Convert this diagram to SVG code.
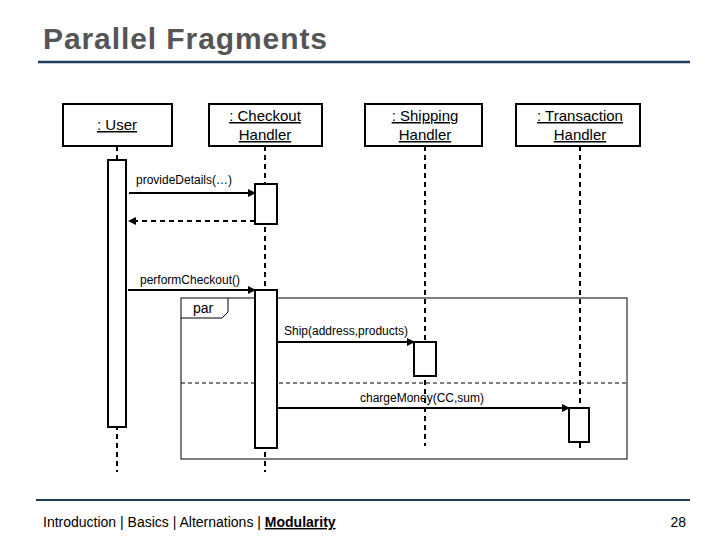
<svg xmlns="http://www.w3.org/2000/svg" width="720" height="540" viewBox="0 0 720 540">
<style>
text{font-family:"Liberation Sans",Arial,sans-serif;fill:#000}
.box{fill:#fff;stroke:#000;stroke-width:2}
.life{stroke:#000;stroke-width:2;stroke-dasharray:5,4;fill:none}
.msg{stroke:#000;stroke-width:2;fill:none}
.lbl{font-size:12px}
.hd{font-size:15px;text-decoration:underline;text-anchor:middle}
</style>
<defs>
<marker id="ah" markerWidth="8" markerHeight="8" refX="7" refY="4" orient="auto" markerUnits="userSpaceOnUse"><path d="M0,0 L8,4 L0,8z" fill="#000"/></marker>
</defs>
<rect width="720" height="540" fill="#fff"/>
<text x="43" y="49" font-size="30" font-weight="bold" style="fill:#555" textLength="284">Parallel Fragments</text>
<line x1="38" y1="62" x2="690" y2="62" stroke="#1f3b57" stroke-width="2.5"/>
<g id="lifelines">
<line class="life" x1="117" y1="146" x2="117" y2="472"/>
<line class="life" x1="265" y1="146" x2="265" y2="472"/>
<line class="life" x1="425" y1="146" x2="425" y2="446"/>
<line class="life" x1="580" y1="146" x2="580" y2="448"/>
</g>
<g id="user"><rect class="box" x="63" y="104" width="109" height="42"/><text class="hd" x="117" y="130">: User</text></g>
<g id="checkout"><rect class="box" x="209" y="104" width="113" height="42"/><text class="hd" x="265" y="121">: Checkout </text><text class="hd" x="265" y="140">Handler</text></g>
<g id="shipping"><rect class="box" x="365" y="104" width="117" height="42"/><text class="hd" x="425" y="121">: Shipping </text><text class="hd" x="425" y="140">Handler</text></g>
<g id="transaction"><rect class="box" x="516" y="104" width="124" height="42"/><text class="hd" x="580" y="121">: Transaction </text><text class="hd" x="580" y="140">Handler</text></g>
<g id="par-frame">
<rect x="181" y="298" width="446" height="161" fill="none" stroke="#000" stroke-width="1"/>
<path d="M181,318 L222,318 L228,312 L228,298" fill="none" stroke="#000" stroke-width="1"/>
<text x="193" y="313" font-size="14">par</text>
<line x1="181" y1="383" x2="627" y2="383" stroke="#000" stroke-width="1" stroke-dasharray="4,3"/>
</g>
<g id="activations">
<rect class="box" x="108" y="160" width="18" height="267"/>
<rect class="box" x="255" y="184" width="22" height="40"/>
<rect class="box" x="255" y="290" width="22" height="158"/>
<rect class="box" x="414" y="342" width="22" height="34"/>
<rect class="box" x="569" y="408" width="20" height="34"/>
</g>
<g id="connectors">
<line class="msg" x1="129" y1="193" x2="255" y2="193" marker-end="url(#ah)"/>
<line class="msg" x1="255" y1="221" x2="129" y2="221" stroke-dasharray="5,4" marker-end="url(#ah)"/>
<line class="msg" x1="128" y1="290" x2="255" y2="290" marker-end="url(#ah)"/>
<line class="msg" x1="277" y1="342" x2="414" y2="342" marker-end="url(#ah)"/>
<line class="msg" x1="277" y1="408" x2="569" y2="408" marker-end="url(#ah)"/>
</g>
<g id="labels">
<text class="lbl" x="136" y="184">provideDetails(…)</text>
<text class="lbl" x="140" y="284">performCheckout()</text>
<text class="lbl" x="284" y="335">Ship(address,products)</text>
<text class="lbl" x="360" y="402">chargeMoney(CC,sum)</text>
</g>
<line x1="36" y1="500" x2="690" y2="500" stroke="#1f3b57" stroke-width="2"/>
<text x="43" y="527" font-size="14">Introduction | Basics | Alternations | <tspan font-weight="bold" text-decoration="underline">Modularity</tspan></text>
<text x="686" y="527" font-size="14" text-anchor="end">28</text>
</svg>
